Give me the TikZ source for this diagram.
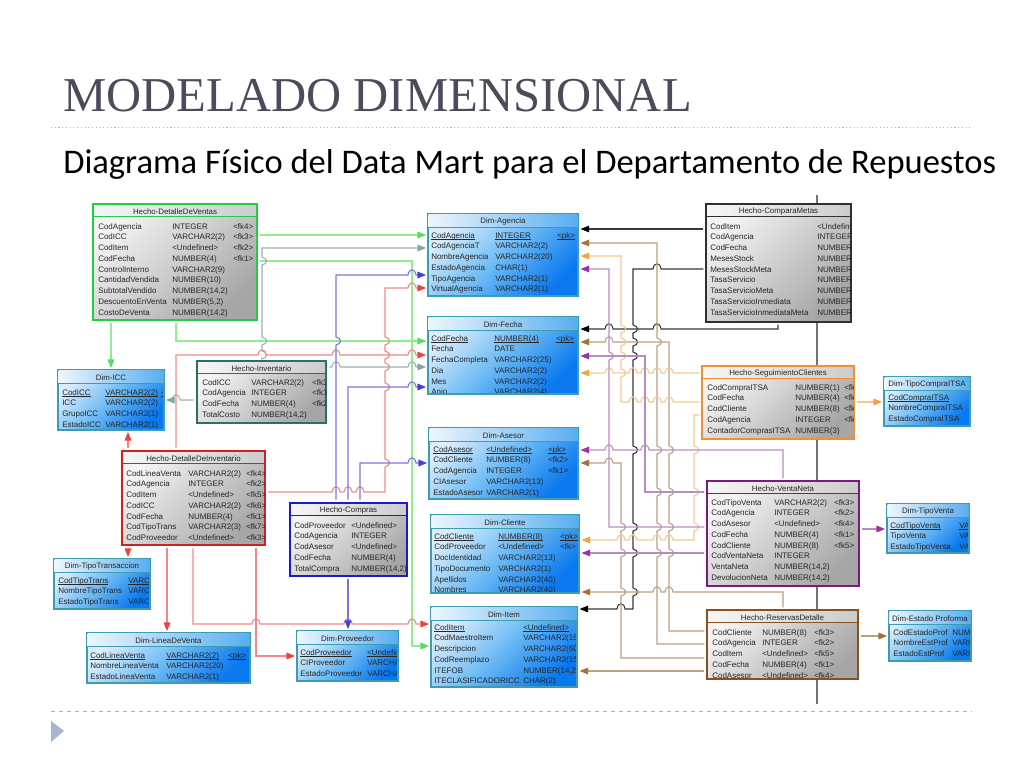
\documentclass[tikz,border=0pt]{standalone}
\usepackage{fontspec}
\setmainfont{Liberation Sans}
\newfontfamily\fuenteTitulo{Liberation Serif}
\newfontfamily\fuenteSub{Carlito}
\usetikzlibrary{arrows.meta,positioning,calc}

\definecolor{bordeDim}{HTML}{3C9CB0}
\definecolor{bordeVerde}{HTML}{22CC44}
\definecolor{bordeTeal}{HTML}{2C6E68}
\definecolor{bordeRojo}{HTML}{CC2222}
\definecolor{bordeAzul}{HTML}{1A1AD0}
\definecolor{bordeNegro}{HTML}{303030}
\definecolor{bordeNaranja}{HTML}{F09030}
\definecolor{bordeMorado}{HTML}{7A1A80}
\definecolor{bordeMarron}{HTML}{8A5020}
\definecolor{DimA}{HTML}{DCEEFB}
\definecolor{DimM}{HTML}{6CBAF4}
\definecolor{DimB}{HTML}{0A78EE}
\definecolor{DimC}{HTML}{EEF6FC}
\definecolor{DimD}{HTML}{58AEF0}
\definecolor{HechoA}{HTML}{F4F4F4}
\definecolor{HechoB}{HTML}{A6A6A6}
\definecolor{HechoC}{HTML}{F6F6F6}
\definecolor{HechoD}{HTML}{CCCCCC}
\definecolor{LineaVerde}{HTML}{90EE90}
\definecolor{PuntaVerde}{HTML}{50E060}
\definecolor{LineaGris}{HTML}{A0B0AC}
\definecolor{PuntaGris}{HTML}{80A8A0}
\definecolor{LineaAzul}{HTML}{7C74D8}
\definecolor{PuntaAzul}{HTML}{4040E4}
\definecolor{LineaRojo}{HTML}{F08888}
\definecolor{PuntaRojo}{HTML}{F04040}
\definecolor{LineaNegro}{HTML}{383838}
\definecolor{LineaMarron}{HTML}{B8A080}
\definecolor{PuntaMarron}{HTML}{A87038}
\definecolor{LineaNaranja}{HTML}{F4C890}
\definecolor{PuntaNaranja}{HTML}{F8A040}
\definecolor{LineaMorado}{HTML}{B88CC0}
\definecolor{PuntaMorado}{HTML}{A030A0}
\definecolor{colorTitulo}{HTML}{4A4C5C}
\definecolor{colorRegla}{HTML}{A8B8B8}
\definecolor{colorVineta}{HTML}{A3B8D0}

\tikzset{
  dim/.style={rectangle,inner sep=0pt,line width=0.8pt,left color=DimA,right color=DimB,middle color=DimM,shading angle=45},
  dimCab/.style={left color=DimC,right color=DimD},
  hecho/.style={rectangle,inner sep=0pt,line width=1.9pt,left color=HechoA,right color=HechoB,shading angle=45},
  hechoCab/.style={left color=HechoC,right color=HechoD},
  cabecera/.style={font=\fontsize{5.9}{7}\selectfont,text=black!85,inner sep=0pt},
  fila/.style={font=\fontsize{6}{7}\selectfont,text=black!85,inner sep=0pt,anchor=base west},
  fk/.style={line width=0.8pt,shorten >=1pt,shorten <=1.5pt},
  tip/.style={>={Triangle[length=6.5pt,width=5pt,color=#1]}},
  fkVerde/.style={fk,draw=LineaVerde,tip=PuntaVerde},
  fkGris/.style={fk,draw=LineaGris,tip=PuntaGris},
  fkAzul/.style={fk,draw=LineaAzul,tip=PuntaAzul},
  fkRojo/.style={fk,draw=LineaRojo,tip=PuntaRojo},
  fkNegro/.style={fk,draw=LineaNegro,tip=black},
  fkMarron/.style={fk,draw=LineaMarron,tip=PuntaMarron},
  fkNaranja/.style={fk,draw=LineaNaranja,tip=PuntaNaranja},
  fkMorado/.style={fk,draw=LineaMorado,tip=PuntaMorado},
}

% saltos de linea: derecha, izquierda, bajando, subiendo
\newcommand{\saltoR}[2]{-- (#1-4,#2) .. controls (#1-3,#2-7) and (#1+3,#2-7) .. (#1+4,#2)}
\newcommand{\saltoL}[2]{-- (#1+4,#2) .. controls (#1+3,#2-7) and (#1-3,#2-7) .. (#1-4,#2)}
\newcommand{\saltoB}[2]{-- (#1,#2-4) .. controls (#1+6,#2-3) and (#1+6,#2+3) .. (#1,#2+4)}
\newcommand{\saltoS}[2]{-- (#1,#2+4) .. controls (#1+6,#2+3) and (#1+6,#2-3) .. (#1,#2-4)}
\newcommand{\pk}[1]{\setbox0\hbox{#1}\rlap{\rule[-1.1pt]{\wd0}{0.35pt}}\box0}
\newcommand{\margendim}{0.8pt}
\newcommand{\margenhecho}{1.9pt}

% nombre, tipo, borde, x0, y0, x1, y1, titulo
\newcommand{\tabla}[8]{%
  \node[#2,draw=#3,minimum width={(#6-#4)*0.75pt},minimum height={(#7-#5)*0.75pt}] (#1) at ({(#4+#6)/2},{(#5+#7)/2}) {};
  \shade[#2Cab] ([shift={(\csname margen#2\endcsname,-\csname margen#2\endcsname)}]#1.north west) rectangle ([shift={(-\csname margen#2\endcsname,-10.5pt)}]#1.north east);
  \draw[#3,line width=0.5pt] ([yshift=-10.5pt]#1.north west) -- ([yshift=-10.5pt]#1.north east);
  \node[cabecera] (#1-t) at ({(#4+#6)/2},{#5+7.5}) {#8};
}
% nombre, x columna 1, 2, 3, y primera fila, filas
\newcommand{\filas}[6]{%
  \begin{scope}
    \clip ([shift={(1.2pt,-1.2pt)}]#1.north west) rectangle ([shift={(-1.2pt,1.2pt)}]#1.south east);
    \foreach [count=\i] \a/\b/\c in {#6} {
      \node[fila] (#1-a\i) at ({#2},{#5+(\i-1)*10.75+3}) {\a};
      \ifx\b\empty\else\node[fila] (#1-b\i) at ({#3},{#5+(\i-1)*10.75+3}) {\b};\fi
      \ifx\c\empty\else\node[fila] (#1-c\i) at ({#4},{#5+(\i-1)*10.75+3}) {\c};\fi
    }
  \end{scope}
}

\begin{document}
\begin{tikzpicture}[x=0.75pt,y=-0.75pt]
\useasboundingbox (0,0) rectangle (1024,768);

\node[anchor=base west,inner sep=0pt,text=colorTitulo,font=\fuenteTitulo\fontsize{36.5}{38}\selectfont] (titulo) at (63,111.5) {MODELADO DIMENSIONAL};
\node[anchor=base west,inner sep=0pt,font=\fuenteSub\fontsize{25.9}{28}\selectfont] (subtitulo) at (63,173) {Diagrama Físico del Data Mart para el Departamento de Repuestos};
\draw[black!30,line width=0.8pt,dotted] (51,127.5) -- (972,127.5);
\draw[colorRegla,line width=0.6pt,dashed] (51,711) -- (972,711);
\fill[colorVineta] (51,721) -- (64,731) -- (51,742) -- cycle;
\draw[black!55,line width=0.9pt] (817,195) -- (817,704);

\tabla{HDV}{hecho}{bordeVerde}{93}{204}{257}{320}{Hecho-DetalleDeVentas}
\filas{HDV}{98}{172}{233}{226}{CodAgencia/INTEGER/<fk4>,CodICC/VARCHAR2(2)/<fk3>,CodItem/<Undefined>/<fk2>,CodFecha/NUMBER(4)/<fk1>,ControlInterno/VARCHAR2(9)/{},CantidadVendida/NUMBER(10)/{},SubtotalVendido/{NUMBER(14,2)}/{},DescuentoEnVenta/{NUMBER(5,2)}/{},CostoDeVenta/{NUMBER(14,2)}/{}}
\tabla{HI}{hecho}{bordeTeal}{197}{361}{326}{423}{Hecho-Inventario}
\filas{HI}{202}{251}{312}{382}{CodICC/VARCHAR2(2)/<fk3>,CodAgencia/INTEGER/<fk1>,CodFecha/NUMBER(4)/<fk2>,TotalCosto/{NUMBER(14,2)}/{}}
\tabla{HDI}{hecho}{bordeRojo}{122}{451}{265}{545}{Hecho-DetalleDeInventario}
\filas{HDI}{126}{188}{246}{473}{CodLineaVenta/VARCHAR2(2)/<fk4>,CodAgencia/INTEGER/<fk2>,CodItem/<Undefined>/<fk5>,CodICC/VARCHAR2(2)/<fk6>,CodFecha/NUMBER(4)/<fk1>,CodTipoTrans/VARCHAR2(3)/<fk7>,CodProveedor/<Undefined>/<fk3>}
\tabla{HC}{hecho}{bordeAzul}{290}{503}{407}{576}{Hecho-Compras}
\filas{HC}{294}{351}{0}{525}{CodProveedor/<Undefined>/{},CodAgencia/INTEGER/{},CodAsesor/<Undefined>/{},CodFecha/NUMBER(4)/{},TotalCompra/{NUMBER(14,2)}/{}}
\tabla{HCM}{hecho}{bordeNegro}{706}{204}{851}{322}{Hecho-ComparaMetas}
\filas{HCM}{710}{817}{0}{226}{CodItem/<Undefined>/{},CodAgencia/INTEGER/{},CodFecha/NUMBER(4)/{},MesesStock/NUMBER(4)/{},MesesStockMeta/NUMBER(4)/{},TasaServicio/NUMBER(4)/{},TasaServicioMeta/NUMBER(4)/{},TasaServicioInmediata/NUMBER(4)/{},TasaServicioInmediataMeta/NUMBER(4)/{}}
\tabla{HSC}{hecho}{bordeNaranja}{702}{366}{854}{439}{Hecho-SeguimientoClientes}
\filas{HSC}{707}{795}{844}{387}{CodCompraITSA/NUMBER(1)/<fk4>,CodFecha/NUMBER(4)/<fk1>,CodCliente/NUMBER(8)/<fk3>,CodAgencia/INTEGER/<fk2>,ContadorComprasITSA/NUMBER(3)/{}}
\tabla{HVN}{hecho}{bordeMorado}{707}{481}{859}{586}{Hecho-VentaNeta}
\filas{HVN}{711}{774}{834}{502}{CodTipoVenta/VARCHAR2(2)/<fk3>,CodAgencia/INTEGER/<fk2>,CodAsesor/<Undefined>/<fk4>,CodFecha/NUMBER(4)/<fk1>,CodCliente/NUMBER(8)/<fk5>,CodVentaNeta/INTEGER/{},VentaNeta/{NUMBER(14,2)}/{},DevolucionNeta/{NUMBER(14,2)}/{}}
\tabla{HRD}{hecho}{bordeMarron}{707}{610}{858}{679}{Hecho-ReservasDetalle}
\filas{HRD}{712}{762}{814}{632}{CodCliente/NUMBER(8)/<fk3>,CodAgencia/INTEGER/<fk2>,CodItem/<Undefined>/<fk5>,CodFecha/NUMBER(4)/<fk1>,CodAsesor/<Undefined>/<fk4>}

\tabla{DICC}{dim}{bordeDim}{58}{370}{164}{430}{Dim-ICC}
\filas{DICC}{62}{105}{161}{392}{\pk{CodICC}/\pk{VARCHAR2(2)}/\pk{<pk>},ICC/VARCHAR2(2)/{},GrupoICC/VARCHAR2(1)/{},EstadoICC/VARCHAR2(1)/{}}
\tabla{DTT}{dim}{bordeDim}{54}{559}{150}{609}{Dim-TipoTransaccion}
\filas{DTT}{58}{128}{0}{580}{\pk{CodTipoTrans}/\pk{VARCHAR2(3)}/{},NombreTipoTrans/VARCHAR2(40)/{},EstadoTipoTrans/VARCHAR2(1)/{}}
\tabla{DLV}{dim}{bordeDim}{87}{633}{250}{683}{Dim-LineaDeVenta}
\filas{DLV}{90}{166}{228}{655}{\pk{CodLineaVenta}/\pk{VARCHAR2(2)}/\pk{<pk>},NombreLineaVenta/VARCHAR2(20)/{},EstadoLineaVenta/VARCHAR2(1)/{}}
\tabla{DP}{dim}{bordeDim}{297}{631}{398}{681}{Dim-Proveedor}
\filas{DP}{300}{367}{0}{652}{\pk{CodProveedor}/\pk{<Undefined>}/{},CIProveedor/VARCHAR2(13)/{},EstadoProveedor/VARCHAR2(1)/{}}
\tabla{DA}{dim}{bordeDim}{428}{214}{578}{296}{Dim-Agencia}
\filas{DA}{431}{495}{557}{235}{\pk{CodAgencia}/\pk{INTEGER}/\pk{<pk>},CodAgenciaT/VARCHAR2(2)/{},NombreAgencia/VARCHAR2(20)/{},EstadoAgencia/CHAR(1)/{},TipoAgencia/VARCHAR2(1)/{},VirtualAgencia/VARCHAR2(1)/{}}
\tabla{DF}{dim}{bordeDim}{428}{317}{578}{394}{Dim-Fecha}
\filas{DF}{431}{494}{556}{338}{\pk{CodFecha}/\pk{NUMBER(4)}/\pk{<pk>},Fecha/DATE/{},FechaCompleta/VARCHAR2(25)/{},Dia/VARCHAR2(2)/{},Mes/VARCHAR2(2)/{},Anio/VARCHAR2(4)/{}}
\tabla{DAs}{dim}{bordeDim}{429}{428}{578}{499}{Dim-Asesor}
\filas{DAs}{433}{486}{548}{449}{\pk{CodAsesor}/\pk{<Undefined>}/\pk{<pk>},CodCliente/NUMBER(8)/<fk2>,CodAgencia/INTEGER/<fk1>,CIAsesor/VARCHAR2(13)/{},EstadoAsesor/VARCHAR2(1)/{}}
\tabla{DCl}{dim}{bordeDim}{431}{515}{579}{593}{Dim-Cliente}
\filas{DCl}{434}{498}{560}{536}{\pk{CodCliente}/\pk{NUMBER(8)}/\pk{<pk>},CodProveedor/<Undefined>/<fk>,DocIdentidad/VARCHAR2(13)/{},TipoDocumento/VARCHAR2(1)/{},Apellidos/VARCHAR2(40)/{},Nombres/VARCHAR2(40)/{}}
\tabla{DIt}{dim}{bordeDim}{431}{607}{577}{687}{Dim-Item}
\filas{DIt}{434}{523}{0}{627}{\pk{CodItem}/\pk{<Undefined>}/{},CodMaestroItem/VARCHAR2(15)/{},Descripcion/VARCHAR2(60)/{},CodReemplazo/VARCHAR2(15)/{},ITEFOB/{NUMBER(14,2)}/{},ITECLASIFICADORICC/CHAR(2)/{}}
\tabla{DTC}{dim}{bordeDim}{884}{377}{970}{426}{Dim-TipoCompraITSA}
\filas{DTC}{888}{0}{0}{397}{\pk{CodCompraITSA}/{}/{},NombreCompraITSA/{}/{},EstadoCompraITSA/{}/{}}
\tabla{DTV}{dim}{bordeDim}{887}{504}{969}{553}{Dim-TipoVenta}
\filas{DTV}{890}{959}{0}{525}{\pk{CodTipoVenta}/\pk{VARCHAR2(2)}/{},TipoVenta/VARCHAR2(20)/{},EstadoTipoVenta/VARCHAR2(1)/{}}
\tabla{DEP}{dim}{bordeDim}{889}{611}{971}{661}{Dim-Estado Proforma}
\filas{DEP}{893}{952}{0}{632}{CodEstadoProf/NUMBER(2)/{},NombreEstProf/VARCHAR2(20)/{},EstadoEstProf/VARCHAR2(1)/{}}

\draw[->,fkVerde] (HDV.east |- 0,235) -- (DA.west |- 0,235);
\draw[->,fkVerde] (HDV.east |- 0,261) -- (412,261) -- (412,646) -- (DIt.west |- 0,646);
\draw[->,fkVerde] (HDV.south -| 176,0) -- (176,341) -- (DF.west |- 0,341);
\draw[->,fkVerde] (HDV.south -| 111,0) -- (DICC.north -| 111,0);

\draw[->,fkGris] (HI.north -| 262,0) \saltoS{262}{355} \saltoS{262}{341} \saltoS{262}{261} -- (262,248) -- (DA.west |- 0,248);
\draw[->,fkGris] (HI.east |- 0,367) \saltoR{336}{367} \saltoR{412}{367} -- (DF.west |- 0,367);
\draw[->,fkGris] (HI.west |- 0,400) \saltoL{176}{400} -- (DICC.east |- 0,400);

\draw[->,fkRojo] (HDI.north -| 176,0) -- (176,355) \saltoR{262}{355} \saltoR{336}{355} \saltoR{412}{355} -- (DF.west |- 0,355);
\draw[->,fkRojo] (HDI.east |- 0,492) \saltoR{336}{492} \saltoR{348}{492} \saltoR{360}{492} -- (385,492) \saltoS{385}{463} \saltoS{385}{387} \saltoS{385}{367} \saltoS{385}{355} \saltoS{385}{341} -- (385,288) \saltoR{412}{288} -- (DA.west |- 0,288);
\draw[->,fkRojo] (HDI.north -| 128,0) -- (DICC.south -| 128,0);
\draw[->,fkRojo] (HDI.south -| 128,0) -- (DTT.north -| 128,0);
\draw[->,fkRojo] (HDI.south -| 167,0) -- (DLV.north -| 167,0);
\draw[->,fkRojo] (HDI.south -| 193,0) -- (193,624) \saltoR{256}{624} \saltoR{348}{624} \saltoR{412}{624} -- (DIt.west |- 0,624);
\draw[->,fkRojo] (HDI.south -| 256,0) -- (256,656) -- (DP.west |- 0,656);

\draw[->,fkAzul] (HC.north -| 336,0) \saltoS{336}{341} -- (336,275) \saltoR{412}{275} -- (DA.west |- 0,275);
\draw[->,fkAzul] (HC.north -| 348,0) -- (348,387) \saltoR{412}{387} -- (DF.west |- 0,387);
\draw[->,fkAzul] (HC.north -| 360,0) -- (360,463) \saltoR{412}{463} -- (DAs.west |- 0,463);
\draw[->,fkAzul] (HC.south -| 348,0) -- (DP.north -| 348,0);

\draw[<-,fkNegro] (DA.east |- 0,229) -- (HCM.west |- 0,229);
\draw[<-,fkNegro] (DF.east |- 0,329) \saltoR{609}{329} \saltoR{657}{329} -- (778,329) -- (HCM.south -| 778,0);
\draw[<-,fkNegro] (DIt.east |- 0,609) \saltoR{621}{609} -- (633,609) \saltoS{633}{592} \saltoS{633}{553} \saltoS{633}{527} \saltoS{633}{450} \saltoS{633}{356} \saltoS{633}{342} \saltoS{633}{329} -- (633,269) \saltoR{657}{269} -- (HCM.west |- 0,269);

\draw[<-,fkMarron] (DA.east |- 0,243) -- (657,243) \saltoB{657}{342} \saltoB{657}{450} \saltoB{657}{492} \saltoB{657}{527} \saltoB{657}{553} -- (657,644) -- (HRD.west |- 0,644);
\draw[<-,fkMarron] (DF.east |- 0,342) \saltoR{609}{342} -- (669,342) \saltoB{669}{450} \saltoB{669}{492} \saltoB{669}{527} \saltoB{669}{553} -- (669,631) -- (HRD.west |- 0,631);
\draw[<-,fkMarron] (DAs.east |- 0,463) \saltoR{609}{463} -- (621,463) \saltoB{621}{527} \saltoB{621}{553} \saltoB{621}{592} -- (621,658) -- (HRD.west |- 0,658);
\draw[<-,fkMarron] (DCl.east |- 0,592) \saltoR{657}{592} \saltoR{669}{592} -- (783,592) -- (HRD.north -| 783,0);
\draw[<-,fkMarron] (DIt.east |- 0,671) -- (HRD.west |- 0,671);

\draw[<-,fkNaranja] (DA.east |- 0,256) -- (621,256) \saltoB{621}{329} \saltoB{621}{342} \saltoB{621}{356} \saltoB{621}{373} -- (621,402) \saltoR{633}{402} \saltoR{645}{402} \saltoR{657}{402} \saltoR{669}{402} -- (HSC.west |- 0,402);
\draw[<-,fkNaranja] (DF.east |- 0,373) \saltoR{609}{373} \saltoR{633}{373} \saltoR{645}{373} \saltoR{657}{373} \saltoR{669}{373} -- (HSC.west |- 0,373);
\draw[<-,fkNaranja] (DCl.east |- 0,540) \saltoR{621}{540} \saltoR{633}{540} \saltoR{657}{540} \saltoR{669}{540} -- (694,540) \saltoS{694}{527} \saltoS{694}{492} \saltoS{694}{450} -- (694,415) -- (HSC.west |- 0,415);

\draw[<-,fkMorado] (DA.east |- 0,269) -- (609,269) \saltoB{609}{356} -- (609,527) -- (HVN.west |- 0,527);
\draw[<-,fkMorado] (DF.east |- 0,356) -- (645,356) -- (645,492) -- (HVN.west |- 0,492);
\draw[<-,fkMorado] (DAs.east |- 0,450) \saltoR{609}{450} \saltoR{645}{450} -- (783,450) -- (HVN.north -| 783,0);
\draw[<-,fkMorado] (DCl.east |- 0,553) -- (HVN.west |- 0,553);

\draw[->,fkNaranja] (HSC.east |- 0,402) -- (DTC.west |- 0,402);
\draw[->,fkMorado] (HVN.east |- 0,529) -- (DTV.west |- 0,529);
\draw[->,fkMarron] (HRD.east |- 0,636) -- (DEP.west |- 0,636);
\end{tikzpicture}
\end{document}
